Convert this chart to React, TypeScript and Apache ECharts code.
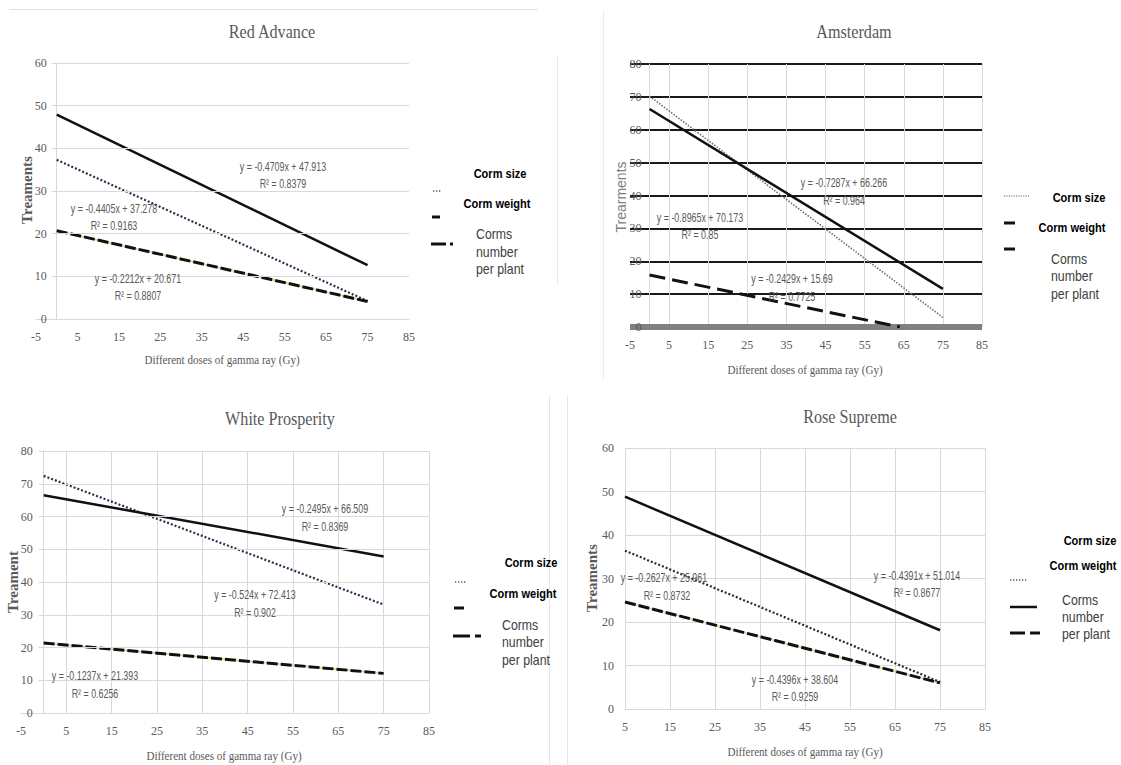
import React, { useEffect, useRef } from "react";
import * as echarts from "echarts";

// ---------- data (trend lines) ----------
const trendDoses = [0, 75];
const roseDoses = [5, 75];
const amsNumberDoses = [0, 64];

// Red Advance
const redCormSize = [37.3, 4.2];
const redCormWeight = [47.9, 12.6];
const redCormsNumber = [20.7, 4.1];
// Amsterdam
const amsCormSize = [70.2, 2.9];
const amsCormWeight = [66.3, 11.6];
const amsCormsNumber = [15.8, 0];
// White Prosperity
const wpCormSize = [72.4, 33.1];
const wpCormWeight = [66.5, 47.8];
const wpCormsNumber = [21.4, 12.1];
// Rose Supreme
const rsCormSize = [36.4, 6.2];
const rsCormWeight = [48.8, 18.1];
const rsCormsNumber = [24.6, 6.0];

// gridline tick values
const gridY60 = [10, 20, 30, 40, 50, 60];
const gridY80 = [10, 20, 30, 40, 50, 60, 70, 80];

const titles = ["Red Advance", "Amsterdam", "White Prosperity", "Rose Supreme"];
const xName = "Different doses of gamma ray (Gy)";
const yNames = ["Treaments", "Trearments", "Treament", "Treaments"];

const equations = [
  ["y = -0.4709x + 47.913", "R² = 0.8379"],
  ["y = -0.4405x + 37.278", "R² = 0.9163"],
  ["y = -0.2212x + 20.671", "R² = 0.8807"],
  ["y = -0.7287x + 66.266", "R² = 0.964"],
  ["y = -0.8965x + 70.173", "R² = 0.85"],
  ["y = -0.2429x + 15.69", "R² = 0.7725"],
  ["y = -0.2495x + 66.509", "R² = 0.8369"],
  ["y = -0.524x + 72.413", "R² = 0.902"],
  ["y = -0.1237x + 21.393", "R² = 0.6256"],
  ["y = -0.2627x + 25.961", "R² = 0.8732"],
  ["y = -0.4391x + 51.014", "R² = 0.8677"],
  ["y = -0.4396x + 38.604", "R² = 0.9259"],
];

const legendLabels = ["Corm size", "Corm weight", "Corms", "number", "per plant"];

// ---------- helpers ----------
const GRAY = "#595959";
const LIGHT = "#d9d9d9";
const SERIF = '"Liberation Serif", "DejaVu Serif", serif';
const SANS = '"Liberation Sans", "DejaVu Sans", sans-serif';

const pairs = (xs: number[], ys: number[]) => xs.map((x, i) => [x, ys[i]]);

function lineSeries(idx: number, xs: number[], ys: number[], lineStyle: any, z: number) {
  return {
    type: "line",
    xAxisIndex: idx,
    yAxisIndex: idx,
    data: pairs(xs, ys),
    symbol: "none",
    showSymbol: false,
    silent: true,
    z,
    lineStyle,
  };
}

function gridLinesSeries(idx: number, ys: number[], x0: number, x1: number) {
  return {
    type: "line",
    xAxisIndex: idx,
    yAxisIndex: idx,
    data: [[x0, 0]],
    symbol: "none",
    showSymbol: false,
    silent: true,
    z: 1,
    lineStyle: { opacity: 0 },
    markLine: {
      silent: true,
      symbol: ["none", "none"],
      label: { show: false },
      animation: false,
      lineStyle: { color: LIGHT, width: 1, type: "solid" },
      emphasis: { disabled: true },
      data: ys.map((v) => [{ coord: [x0, v] }, { coord: [x1, v] }]),
    },
  };
}

function txt(x: number, y: number, text: string, o: any = {}) {
  const align = o.align || "center";
  return {
    type: "text",
    x,
    y,
    rotation: o.rotation || 0,
    scaleX: o.scaleX || 1,
    silent: true,
    z: 100,
    style: {
      text,
      fill: o.fill || GRAY,
      fontSize: o.size || 12,
      fontFamily: o.family || SANS,
      fontWeight: o.weight || "normal",
      align,
      textAlign: align,
      verticalAlign: "middle",
      textVerticalAlign: "middle",
    },
  };
}

function seg(x1: number, y1: number, x2: number, y2: number, stroke: string, lineWidth: number, lineDash?: number[]) {
  return {
    type: "line",
    silent: true,
    z: 100,
    shape: { x1, y1, x2, y2 },
    style: { stroke, lineWidth, lineDash: lineDash || null },
  };
}

function xAxisCfg(idx: number, min: number, extra: any = {}) {
  return {
    gridIndex: idx,
    type: "value",
    min,
    max: 85,
    interval: 10,
    axisLine: { show: true, onZero: false, lineStyle: { color: LIGHT, width: 1 } },
    axisTick: { show: false },
    axisLabel: { color: GRAY, fontFamily: SERIF, fontSize: 12, margin: 12 },
    splitLine: { show: false },
    ...extra,
  };
}

// offset moves the y axis (line, ticks, labels) inward to dose 0
function yAxisCfg(idx: number, max: number, margin: number, offset: number, extra: any = {}) {
  return {
    gridIndex: idx,
    type: "value",
    min: 0,
    max,
    interval: 10,
    position: "left",
    offset,
    axisLine: { show: true, onZero: false, lineStyle: { color: LIGHT, width: 1 } },
    axisTick: { show: true, length: 5, lineStyle: { color: LIGHT } },
    axisLabel: { color: GRAY, fontFamily: SERIF, fontSize: 12, margin },
    splitLine: { show: false },
    ...extra,
  };
}

const solid = { color: "#111", width: 2.5, type: "solid" };
const dotted = { color: "#27304a", width: 2.2, type: [2, 2] };
const greenUnder = { color: "#c8dc78", width: 1.5, type: "solid" };
const blackDash = { color: "#111", width: 3, type: [11, 3] };

const GRID_W = [373, 352, 408, 360];

export default function App() {
  const ref = useRef<HTMLDivElement>(null);

  useEffect(() => {
    document.body.style.margin = "0";
    if (!ref.current) return;
    const chart = echarts.init(ref.current, undefined, { renderer: "svg" });

    const graphics: any[] = [];
    // faint panel frames
    graphics.push(seg(9, 9.5, 538, 9.5, "#e2e2e2", 1));
    graphics.push(seg(557.5, 55, 557.5, 285, "#e8e8e8", 1));
    graphics.push(seg(603.5, 10, 603.5, 380, "#ececec", 1));
    graphics.push(seg(549.5, 395, 549.5, 765, "#e6e6e6", 1));
    graphics.push(seg(567.5, 395, 567.5, 765, "#e6e6e6", 1));

    // titles
    const titlePos = [[272, 32], [854, 32], [280, 419], [850, 417]];
    titles.forEach((t, i) =>
      graphics.push(txt(titlePos[i][0], titlePos[i][1], t, { family: SERIF, size: 19, scaleX: 0.85 }))
    );
    // x-axis names
    const xNamePos = [[222, 360], [805, 370], [224, 756], [805, 752]];
    xNamePos.forEach((p) => graphics.push(txt(p[0], p[1], xName, { family: SERIF, size: 13, scaleX: 0.85 })));
    // y-axis names
    const yNamePos = [[27, 190], [621, 197], [13, 582], [592, 578]];
    yNames.forEach((n, i) => {
      if (i === 1) {
        graphics.push(txt(yNamePos[i][0], yNamePos[i][1], n, { family: SANS, size: 14, rotation: Math.PI / 2, fill: "#808080" }));
      } else {
        graphics.push(txt(yNamePos[i][0], yNamePos[i][1], n, { family: SERIF, size: 15, weight: "bold", rotation: Math.PI / 2 }));
      }
    });
    // equations
    const eqPos = [
      [283, 166, 183], [114, 208, 225], [138, 278, 295],
      [844, 182, 200], [700, 217, 234], [792, 278, 296],
      [325, 508, 526], [255, 594, 612], [95, 675, 693],
      [664, 577, 595], [917, 575, 592], [795, 679, 696],
    ];
    equations.forEach((e, i) => {
      const p = eqPos[i];
      graphics.push(txt(p[0], p[1], e[0], { size: 12, scaleX: 0.74 }));
      graphics.push(txt(i === 9 ? 667 : p[0], p[2], e[1], { size: 12, scaleX: 0.74 }));
    });

    // legends
    const legendPos = [
      [500, 174, 497, 204, 476, 234, 252, 269],
      [1079, 198, 1072, 228, 1051, 259, 276, 294],
      [531, 563, 523, 594, 502, 625, 642, 660],
      [1090, 541, 1083, 566, 1062, 600, 617, 634],
    ];
    legendPos.forEach((p) => {
      graphics.push(txt(p[0], p[1], legendLabels[0], { size: 13, weight: "bold", fill: "#000", scaleX: 0.85 }));
      graphics.push(txt(p[2], p[3], legendLabels[1], { size: 13, weight: "bold", fill: "#000", scaleX: 0.85 }));
      graphics.push(txt(p[4], p[5], legendLabels[2], { size: 14, fill: "#404040", scaleX: 0.88, align: "left" }));
      graphics.push(txt(p[4], p[6], legendLabels[3], { size: 14, fill: "#404040", scaleX: 0.88, align: "left" }));
      graphics.push(txt(p[4], p[7], legendLabels[4], { size: 14, fill: "#404040", scaleX: 0.88, align: "left" }));
    });
    // legend symbols
    graphics.push(seg(433, 191, 441, 191, "#555", 1.5, [1.3, 1.7]));
    graphics.push(seg(432, 217, 440, 217, "#111", 3));
    graphics.push(seg(431, 244, 446, 244, "#111", 3));
    graphics.push(seg(450, 244, 453, 244, "#111", 3));
    graphics.push(seg(1004, 196, 1030, 196, "#666", 1, [1.2, 1.2]));
    graphics.push(seg(1004, 223, 1015, 223, "#111", 3));
    graphics.push(seg(1004, 249, 1015, 249, "#111", 3));
    graphics.push(seg(455, 582, 467, 582, "#555", 1.5, [1.3, 1.7]));
    graphics.push(seg(454, 608, 464, 608, "#111", 3));
    graphics.push(seg(453, 636, 470, 636, "#111", 3));
    graphics.push(seg(475, 636, 481, 636, "#111", 3));
    graphics.push(seg(1010, 580, 1027, 580, "#555", 1.5, [1.3, 1.7]));
    graphics.push(seg(1010, 607, 1037, 607, "#111", 2.5));
    graphics.push(seg(1010, 633, 1025, 633, "#111", 3));
    graphics.push(seg(1030, 633, 1040, 633, "#111", 3));

    const zeroOffset = (i: number) => -(5 / 90) * GRID_W[i];

    const option: any = {
      animation: false,
      backgroundColor: "#ffffff",
      grid: [
        { left: 36, top: 63, width: GRID_W[0], height: 256, containLabel: false },
        { left: 630, top: 64, width: GRID_W[1], height: 263, containLabel: false },
        { left: 21, top: 451, width: GRID_W[2], height: 262, containLabel: false },
        { left: 625, top: 448, width: GRID_W[3], height: 261, containLabel: false },
      ],
      xAxis: [
        xAxisCfg(0, -5),
        xAxisCfg(1, -5, {
          axisLine: { show: true, onZero: false, lineStyle: { color: "#808080", width: 6, cap: "butt" } },
          splitLine: { show: true, showMinLine: false, lineStyle: { color: LIGHT, width: 1 } },
        }),
        xAxisCfg(2, -5, {
          splitLine: { show: true, showMinLine: false, lineStyle: { color: LIGHT, width: 1 } },
        }),
        xAxisCfg(3, 5, {
          splitLine: { show: true, showMinLine: false, lineStyle: { color: LIGHT, width: 1 } },
        }),
      ],
      yAxis: [
        yAxisCfg(0, 60, 10, zeroOffset(0)),
        yAxisCfg(1, 80, 8, zeroOffset(1), {
          axisTick: { show: false },
          splitLine: { show: true, showMinLine: false, lineStyle: { color: "#1a1a1a", width: 2 } },
        }),
        yAxisCfg(2, 80, 11, zeroOffset(2)),
        yAxisCfg(3, 60, 11, 0, {
          axisTick: { show: false },
          splitLine: { show: true, showMinLine: false, lineStyle: { color: LIGHT, width: 1 } },
        }),
      ],
      series: [
        // Red Advance
        gridLinesSeries(0, gridY60, 0, 85),
        lineSeries(0, trendDoses, redCormWeight, solid, 4),
        lineSeries(0, trendDoses, redCormSize, dotted, 4),
        lineSeries(0, trendDoses, redCormsNumber, greenUnder, 3),
        lineSeries(0, trendDoses, redCormsNumber, blackDash, 4),
        // Amsterdam
        lineSeries(1, trendDoses, amsCormSize, { color: "#6e6e6e", width: 1.6, type: [1.5, 1.5] }, 4),
        lineSeries(1, trendDoses, amsCormWeight, solid, 4),
        lineSeries(1, amsNumberDoses, amsCormsNumber, { color: "#111", width: 3, type: [16, 7] }, 4),
        // White Prosperity
        gridLinesSeries(2, gridY80, 0, 85),
        lineSeries(2, trendDoses, wpCormSize, dotted, 4),
        lineSeries(2, trendDoses, wpCormWeight, solid, 4),
        lineSeries(2, trendDoses, wpCormsNumber, greenUnder, 3),
        lineSeries(2, trendDoses, wpCormsNumber, blackDash, 4),
        // Rose Supreme
        lineSeries(3, roseDoses, rsCormWeight, solid, 4),
        lineSeries(3, roseDoses, rsCormSize, { color: "#2a2a2a", width: 2.2, type: [2, 2] }, 4),
        lineSeries(3, roseDoses, rsCormsNumber, greenUnder, 3),
        lineSeries(3, roseDoses, rsCormsNumber, blackDash, 4),
      ],
      graphic: { elements: graphics },
    };

    chart.setOption(option);
    return () => chart.dispose();
  }, []);

  return <div ref={ref} style={{ width: 1121, height: 765 }} />;
}
